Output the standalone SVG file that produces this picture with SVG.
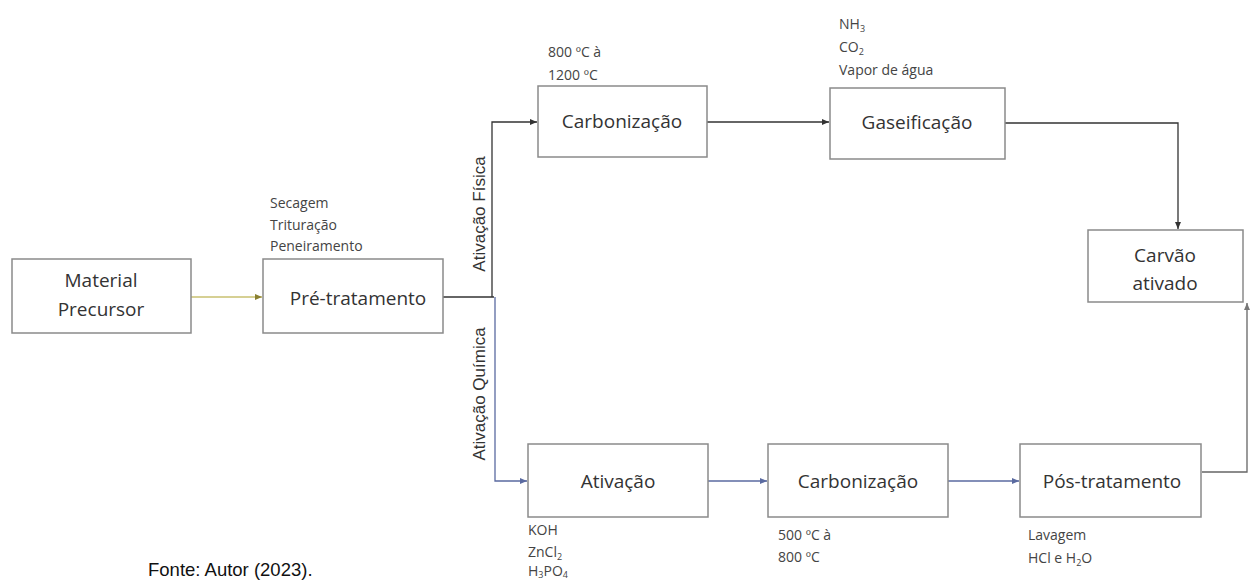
<svg xmlns="http://www.w3.org/2000/svg" width="1257" height="580" viewBox="0 0 1257 580">
<style>
.box{fill:#fff;stroke:#8a8a8a;stroke-width:1.5}
.t{font-family:"Open Sans","Noto Sans",sans-serif;font-size:19px;fill:#333;text-anchor:middle}
.s{font-family:"Open Sans","Noto Sans",sans-serif;font-size:14px;fill:#444}
.sub{font-size:9px}
.v{font-family:"Liberation Sans",Arial,sans-serif;font-size:17px;fill:#333;text-anchor:middle}
.k{fill:none;stroke:#333;stroke-width:1.3}
.b{fill:none;stroke:#5a6aa0;stroke-width:1.3}
.y{fill:none;stroke:#c8c070;stroke-width:1.5}
.g{fill:none;stroke:#666;stroke-width:2}
</style>
<defs>
<marker id="ak" markerWidth="8" markerHeight="8" refX="7" refY="4" orient="auto" markerUnits="userSpaceOnUse"><path d="M0,1 L7,4 L0,7 z" fill="#333"/></marker>
<marker id="ab" markerWidth="8" markerHeight="8" refX="7" refY="4" orient="auto" markerUnits="userSpaceOnUse"><path d="M0,1 L7,4 L0,7 z" fill="#5a6aa0"/></marker>
<marker id="ay" markerWidth="8" markerHeight="8" refX="7" refY="4" orient="auto" markerUnits="userSpaceOnUse"><path d="M0,1 L7,4 L0,7 z" fill="#8a8030"/></marker>
<marker id="ag" markerWidth="8" markerHeight="8" refX="7" refY="4" orient="auto" markerUnits="userSpaceOnUse"><path d="M0,1 L7,4 L0,7 z" fill="#777"/></marker>
</defs>
<rect width="1257" height="580" fill="#fff"/>
<g id="connectors">
<path class="y" d="M191,297 H262" marker-end="url(#ay)"/>
<path class="g" d="M443,297 H494"/>
<path class="k" d="M492,297 V122 H537" marker-end="url(#ak)"/>
<path class="k" d="M707,122 H829" marker-end="url(#ak)"/>
<path class="k" d="M1005,123 H1178 V229" marker-end="url(#ak)"/>
<path class="b" d="M495,297 V481 H527" marker-end="url(#ab)"/>
<path class="b" d="M708,481 H767" marker-end="url(#ab)"/>
<path class="b" d="M948,481 H1019" marker-end="url(#ab)"/>
<path class="g" style="stroke-width:1.3" d="M1202,472 H1247 V303" marker-end="url(#ag)"/>
</g>
<g id="material">
<rect class="box" x="12" y="259" width="179" height="74"/>
<text class="t" x="101" y="287">Material</text>
<text class="t" x="101" y="316">Precursor</text>
</g>
<g id="pretratamento">
<rect class="box" x="263" y="259" width="180" height="74"/>
<text class="t" x="358" y="305">Pré-tratamento</text>
<text class="s" x="270" y="208">Secagem</text>
<text class="s" x="270" y="230">Trituração</text>
<text class="s" x="270" y="251">Peneiramento</text>
</g>
<g id="labels-v">
<text class="v" transform="translate(485,214) rotate(-90)">Ativação Física</text>
<text class="v" transform="translate(485,394) rotate(-90)">Ativação Química</text>
</g>
<g id="carbonizacao1">
<rect class="box" x="538" y="86" width="169" height="71"/>
<text class="t" x="622" y="128">Carbonização</text>
<text class="s" x="548" y="57">800 ºC à</text>
<text class="s" x="548" y="80">1200 ºC</text>
</g>
<g id="gaseificacao">
<rect class="box" x="830" y="88" width="175" height="71"/>
<text class="t" x="917" y="129">Gaseificação</text>
<text class="s" x="839" y="29">NH<tspan class="sub" dy="3">3</tspan></text>
<text class="s" x="839" y="52">CO<tspan class="sub" dy="3">2</tspan></text>
<text class="s" x="839" y="75">Vapor de água</text>
</g>
<g id="carvao">
<rect class="box" x="1088" y="230" width="155" height="72"/>
<text class="t" x="1165" y="262">Carvão</text>
<text class="t" x="1165" y="290">ativado</text>
</g>
<g id="ativacao">
<rect class="box" x="528" y="444" width="180" height="73"/>
<text class="t" x="618" y="488">Ativação</text>
<text class="s" x="528" y="535">KOH</text>
<text class="s" x="528" y="557">ZnCl<tspan class="sub" dy="3">2</tspan></text>
<text class="s" x="528" y="576">H<tspan class="sub" dy="2">3</tspan><tspan dy="-2">PO</tspan><tspan class="sub" dy="2">4</tspan></text>
</g>
<g id="carbonizacao2">
<rect class="box" x="768" y="444" width="180" height="73"/>
<text class="t" x="858" y="488">Carbonização</text>
<text class="s" x="778" y="540">500 ºC à</text>
<text class="s" x="778" y="562">800 ºC</text>
</g>
<g id="postratamento">
<rect class="box" x="1020" y="444" width="181" height="73"/>
<text class="t" x="1112" y="488">Pós-tratamento</text>
<text class="s" x="1028" y="540">Lavagem</text>
<text class="s" x="1028" y="563">HCl e H<tspan class="sub" dy="3">2</tspan><tspan dy="-3">O</tspan></text>
</g>
<text id="fonte" x="148" y="576" font-family="Liberation Sans,Arial,sans-serif" font-size="18.5" fill="#111">Fonte: Autor (2023).</text>
</svg>
